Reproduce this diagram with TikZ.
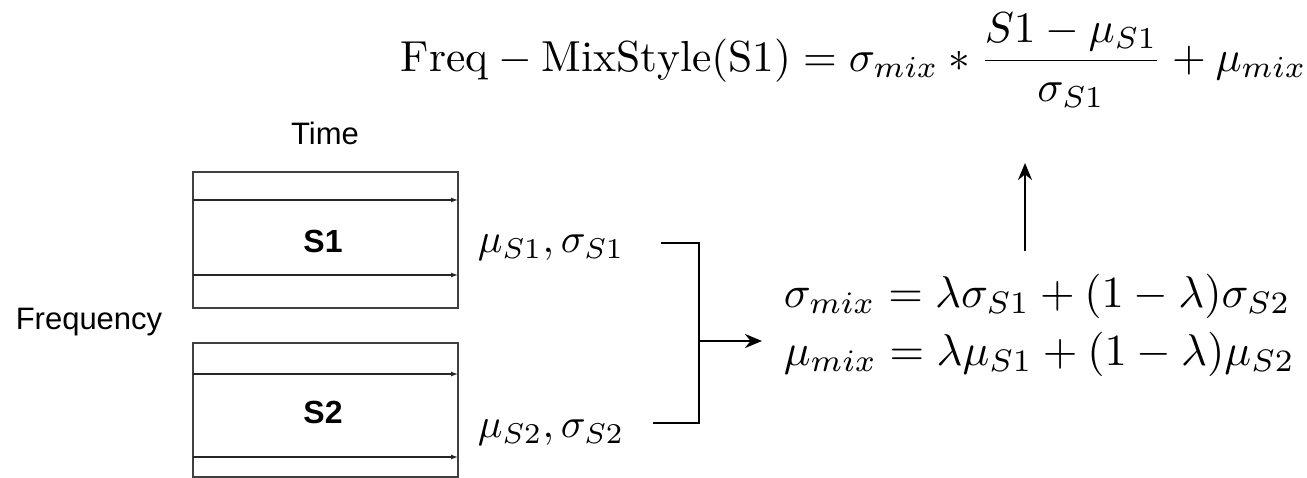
\documentclass[tikz,border=0pt]{standalone}
\usepackage{fontspec}
\usepackage{amsmath}
\newfontfamily\arialf{Liberation Sans}
\usetikzlibrary{arrows.meta}
\begin{document}
\begin{tikzpicture}[x=1pt,y=-1pt,
  lab/.style={font=\arialf\fontsize{31}{34}\selectfont, inner sep=0pt},
  slab/.style={font=\arialf\bfseries\fontsize{32}{35}\selectfont, inner sep=0pt},
  mth/.style={inner sep=0pt},
  boxln/.style={draw=black!75, line width=1.6pt},
  timeln/.style={draw=black!85, line width=1.3pt, -{Latex[length=7pt,width=5pt]}},
  brk/.style={draw=black, line width=2.6pt},
  arr/.style={draw=black, line width=2.6pt, -{Stealth[length=17pt,width=14pt]}}]
\useasboundingbox (0,0) rectangle (1307,478);
% boxes
\draw[boxln] (193,172) rectangle (458,308);
\draw[boxln] (193,343) rectangle (458,477);
\coordinate (a1s) at (193,200); \coordinate (a1e) at (458,200);
\coordinate (a2s) at (193,275); \coordinate (a2e) at (458,275);
\coordinate (a3s) at (193,374); \coordinate (a3e) at (458,374);
\coordinate (a4s) at (193,457); \coordinate (a4e) at (458,457);
\draw[timeln] (a1s) -- (a1e);
\draw[timeln] (a2s) -- (a2e);
\draw[timeln] (a3s) -- (a3e);
\draw[timeln] (a4s) -- (a4e);
\node[slab] (s1) at (323,241) {S1};
\node[slab] (s2) at (323,412) {S2};
\node[lab] (time) at (325,133) {Time};
\node[lab] (freq) at (89,322) {Frequency};
% stats
\node[mth, scale=4.1, anchor=west] (st1) at (477,248) {$\mu_{S1},\sigma_{S1}$};
\node[mth, scale=4.1, anchor=west] (st2) at (477,433) {$\mu_{S2},\sigma_{S2}$};
\coordinate (t1) at (661,243); \coordinate (tc) at (699,243);
\coordinate (t2) at (653,423); \coordinate (bc) at (699,423);
\coordinate (mid) at (699,341);
\draw[brk] (t1) -- (tc) -- (bc) -- (t2);
% mix equations
\node[mth, scale=4.45, anchor=west] (eq1) at (783,296) {$\sigma_{mix}=\lambda\sigma_{S1}+(1-\lambda)\sigma_{S2}$};
\node[mth, scale=4.45, anchor=west] (eq2) at (783,354) {$\mu_{mix}=\lambda\mu_{S1}+(1-\lambda)\mu_{S2}$};
\coordinate (eqs) at (762,341);
\draw[arr] (mid) -- (eqs);
% top formula
\node[mth, scale=4.34, anchor=west] (top) at (400,60) {$\displaystyle \mathrm{Freq-MixStyle(S1)}=\sigma_{mix}*\frac{S1-\mu_{S1}}{\sigma_{S1}}+\mu_{mix}$};
\coordinate (up0) at (1025,251); \coordinate (up1) at (1025,163);
\draw[arr] (up0) -- (up1);
\end{tikzpicture}
\end{document}
